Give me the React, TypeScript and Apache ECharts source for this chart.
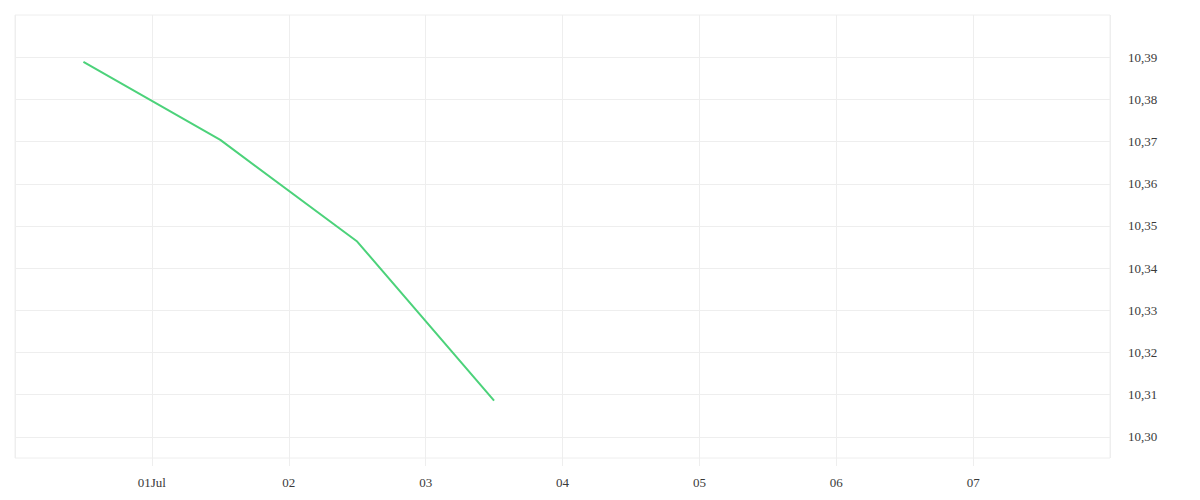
import { useEffect, useRef } from 'react'
import * as echarts from 'echarts'

// points (half-day offsets)
const times = ['2024-06-30T12:00:00Z', '2024-07-01T12:00:00Z', '2024-07-02T12:00:00Z', '2024-07-03T12:00:00Z']
const values = [10.3889, 10.3704, 10.3463, 10.3086]
const yTicks = [10.3, 10.31, 10.32, 10.33, 10.34, 10.35, 10.36, 10.37, 10.38, 10.39]
const xStart = '2024-06-30T00:00:00Z'
const xEnd = '2024-07-08T00:00:00Z'

const DAY = 86400000
const gridColor = '#eeeeee'
const textColor = '#3a3a3a'

export default function App() {
  const chartRef = useRef<HTMLDivElement>(null)

  useEffect(() => {
    document.body.style.margin = '0'
    if (!chartRef.current) return
    const chart = echarts.init(chartRef.current, undefined, { renderer: 'svg' })

    const option: echarts.EChartsOption = {
      animation: false,
      backgroundColor: '#ffffff',
      textStyle: { fontFamily: 'serif' },
      grid: { left: 15, right: 90, top: 15, bottom: 42, show: true, borderColor: gridColor, borderWidth: 1 },
      xAxis: {
        type: 'value',
        min: Date.parse(xStart),
        max: Date.parse(xEnd),
        interval: DAY,
        axisLine: { show: false },
        axisTick: { show: true, length: 8, lineStyle: { color: gridColor } },
        splitLine: { show: true, lineStyle: { color: gridColor } },
        axisLabel: {
          showMinLabel: false,
          showMaxLabel: false,
          color: textColor,
          fontSize: 13,
          fontFamily: 'serif',
          margin: 18,
          formatter: (v: number) => {
            const d = new Date(v)
            const day = String(d.getUTCDate()).padStart(2, '0')
            return d.getUTCDate() === 1 ? day + 'Jul' : day
          },
        },
      },
      yAxis: {
        type: 'value',
        position: 'right',
        min: 10.295,
        max: 10.4,
        axisLine: { show: false },
        axisTick: { show: false, customValues: yTicks },
        splitLine: { show: true, lineStyle: { color: gridColor } },
        axisLabel: {
          customValues: yTicks,
          color: textColor,
          fontSize: 13,
          fontFamily: 'serif',
          margin: 18,
          padding: [5, 0, 0, 0],
          formatter: (v: number) => v.toFixed(2).replace('.', ','),
        },
      },
      series: [
        {
          type: 'line',
          data: times.map((t, i) => [Date.parse(t), values[i]]),
          symbol: 'none',
          lineStyle: { color: '#4cd27a', width: 2 },
        },
      ],
    }

    chart.setOption(option)
    return () => chart.dispose()
  }, [])

  return <div ref={chartRef} style={{ width: 1200, height: 500 }} />
}
